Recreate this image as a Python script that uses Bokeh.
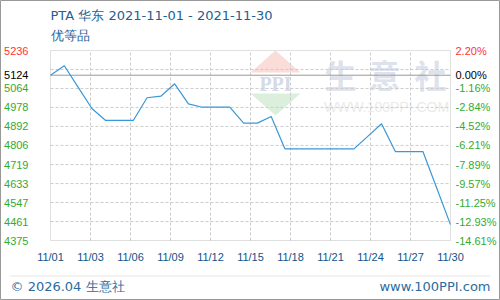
from bokeh.plotting import figure
from bokeh.models import Range1d, FixedTicker, LinearAxis, Label, PolyAnnotation, BoxAnnotation
from bokeh.embed import file_html
from bokeh.resources import INLINE

# ---------------- data ----------------
dates = ["11/01", "11/02", "11/03", "11/04", "11/05", "11/06", "11/07", "11/08", "11/09", "11/10",
         "11/11", "11/12", "11/13", "11/14", "11/15", "11/16", "11/17", "11/18", "11/19", "11/20",
         "11/21", "11/22", "11/23", "11/24", "11/25", "11/26", "11/27", "11/28", "11/29", "11/30"]
prices = [5124, 5167, 5070, 4973, 4919, 4919, 4919, 5022, 5029, 5085,
          4994, 4979, 4979, 4979, 4907, 4907, 4937, 4790, 4790, 4790,
          4790, 4790, 4790, 4847, 4904, 4778, 4778, 4778, 4613, 4447]
base_price = 5124
y_grid = [5236, 5150, 5064, 4978, 4892, 4806, 4719, 4633, 4547, 4461, 4375]
left_labels = ["", "", "5064", "4978", "4892", "4806", "4719", "4633", "4547", "4461", "4375"]
right_labels = ["", "", "-1.16%", "-2.84%", "-4.52%", "-6.21%", "-7.89%", "-9.57%", "-11.25%", "-12.93%", "-14.61%"]
top_label, top_pct = "5236", "2.20%"
base_label, base_pct = "5124", "0.00%"
title_text = "PTA 华东 2021-11-01 - 2021-11-30"
subtitle_text = "优等品"
footer_left = "© 2026.04 生意社"
footer_right = "www.100PPI.com"

days = list(range(1, len(dates) + 1))
n_div = 10
x_ticks = [1 + (len(dates) - 1) * k / n_div for k in range(n_div + 1)]
x_tick_labels = {t: dates[int((len(dates) - 1) * k / n_div + 1e-9)] for k, t in enumerate(x_ticks)}

# ---------------- layout (canvas px) ----------------
W, H = 500, 300
PL, PR, PT, PB = 50, 450, 50, 240          # inner plot box in canvas px
xmin, xmax = days[0], days[-1]
ymin, ymax = y_grid[-1], y_grid[0]
xpp = (xmax - xmin) / (PR - PL)            # data per px
ypp = (ymax - ymin) / (PB - PT)
x_range = Range1d(xmin - PL * xpp, xmax + (W - PR) * xpp)
y_range = Range1d(ymin - (H - PB) * ypp, ymax + PT * ypp)

p = figure(width=W, height=H, output_backend="svg", toolbar_location=None,
           x_range=x_range, y_range=y_range, x_axis_location=None, y_axis_location=None,
           min_border=0)
p.background_fill_color = "white"
p.border_fill_color = "white"
p.outline_line_color = "#999999"
p.grid.visible = False

def sx(x):
    return x

def sy(y):
    return H - y

# ---------------- watermark ----------------
p.add_layout(PolyAnnotation(xs=[250, 300, 275], ys=[sy(72), sy(72), sy(50)],
                            xs_units="screen", ys_units="screen",
                            fill_color="#fadcd8", fill_alpha=1, line_color=None, level="image"))
p.add_layout(PolyAnnotation(xs=[250, 300, 275], ys=[sy(93), sy(93), sy(115)],
                            xs_units="screen", ys_units="screen",
                            fill_color="#dcefdc", fill_alpha=1, line_color=None, level="image"))
p.add_layout(Label(x=275, y=sy(83), x_units="screen", y_units="screen", text="PPI",
                   text_font="Liberation Serif", text_font_style="bold", text_font_size="20px",
                   text_color="#d3dbe9", text_align="center", text_baseline="middle", level="image"))
for ch, cx in zip("生意社", [340, 384, 430]):
    p.add_layout(Label(x=cx, y=sy(73), x_units="screen", y_units="screen", text=ch,
                       text_font="Noto Sans CJK SC", text_font_style="bold", text_font_size="32px",
                       text_color="#dde2ec", text_align="center", text_baseline="middle", level="image"))
p.add_layout(Label(x=386, y=sy(106), x_units="screen", y_units="screen", text="WWW.100PPI.COM",
                   text_font="Liberation Sans", text_font_size="14px",
                   text_color="#ebebeb", text_align="center", text_baseline="middle", level="image"))

# ---------------- grid (dashed) ----------------
p.segment(x0=x_ticks[1:-1], y0=[ymin] * (len(x_ticks) - 2), x1=x_ticks[1:-1], y1=[ymax] * (len(x_ticks) - 2),
          line_color="#cccccc", line_dash="3 2", line_width=1)
p.segment(x0=[xmin] * (len(y_grid) - 2), y0=y_grid[1:-1], x1=[xmax] * (len(y_grid) - 2), y1=y_grid[1:-1],
          line_color="#cccccc", line_dash="3 2", line_width=1)

# base line
p.segment(x0=[xmin], y0=[base_price], x1=[xmax], y1=[base_price], line_color="#999999", line_width=1)

# plot box
p.add_layout(BoxAnnotation(left=xmin, right=xmax, bottom=ymin, top=ymax, fill_alpha=0,
                           line_color="#999999", line_width=1, level="overlay"))

# price line
p.line(days, prices, line_color="#3a97d8", line_width=1.2)

# ---------------- axes (fixed location, labels only) ----------------
TICK_FONT = "Liberation Sans"

def make_axis(ticks, overrides, color, standoff, loc, side):
    ax = LinearAxis(ticker=FixedTicker(ticks=ticks), major_label_overrides=overrides,
                    fixed_location=loc)
    ax.axis_line_color = None
    ax.major_tick_line_color = None
    ax.minor_tick_line_color = None
    ax.major_tick_out = 0
    ax.major_tick_in = 0
    ax.major_label_text_font = TICK_FONT
    ax.major_label_text_font_size = "11px"
    ax.major_label_text_color = color
    ax.major_label_standoff = standoff
    p.add_layout(ax, side)
    return ax

make_axis(x_ticks, x_tick_labels, "#0f5388", 10, ymin, "below")
make_axis(y_grid, {t: s for t, s in zip(y_grid, left_labels)}, "#33aa33", 22, xmin, "left")
make_axis(y_grid, {t: s for t, s in zip(y_grid, right_labels)}, "#33aa33", 5, xmax, "right")
make_axis([ymax], {ymax: top_label}, "#ff3333", 22, xmin, "left")
make_axis([ymax], {ymax: top_pct}, "#ff3333", 5, xmax, "right")
make_axis([base_price], {base_price: base_label}, "#000000", 22, xmin, "left")
make_axis([base_price], {base_price: base_pct}, "#000000", 5, xmax, "right")

# ---------------- titles / footer ----------------
HEAD_FONT = "DejaVu Sans"
p.add_layout(Label(x=50, y=sy(15), x_units="screen", y_units="screen", text=title_text,
                   text_font=HEAD_FONT, text_font_size="13px", text_color="#1b6194",
                   text_align="left", text_baseline="middle"))
p.add_layout(Label(x=50, y=sy(35), x_units="screen", y_units="screen", text=subtitle_text,
                   text_font=HEAD_FONT, text_font_size="13px", text_color="#1b6194",
                   text_align="left", text_baseline="middle"))
p.add_layout(PolyAnnotation(xs=[10, 490], ys=[sy(275.5), sy(275.5)],
                            xs_units="screen", ys_units="screen",
                            fill_alpha=0, line_color="#aaaaaa", line_width=1))
p.add_layout(Label(x=10, y=sy(286), x_units="screen", y_units="screen", text=footer_left,
                   text_font=HEAD_FONT, text_font_size="13px", text_color="#2a6ca0",
                   text_align="left", text_baseline="middle"))
p.add_layout(Label(x=490, y=sy(286), x_units="screen", y_units="screen", text=footer_right,
                   text_font=HEAD_FONT, text_font_size="13px", text_color="#2a6ca0",
                   text_align="right", text_baseline="middle"))

open("out.html", "w").write(file_html(p, INLINE))
